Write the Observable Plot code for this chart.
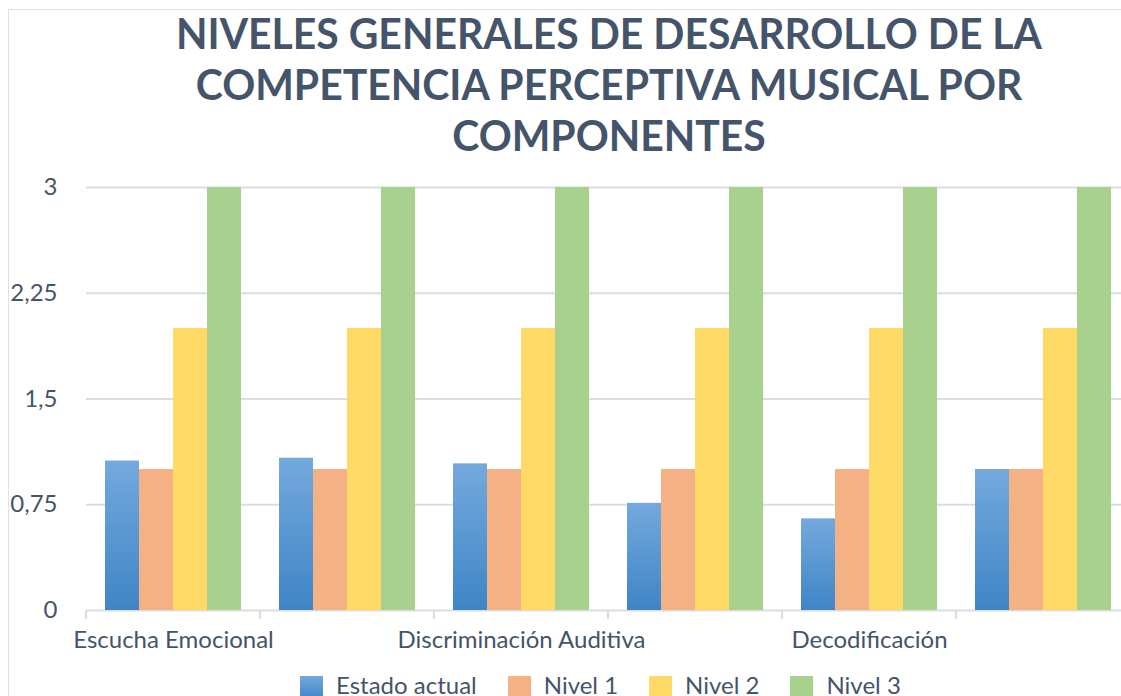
<!DOCTYPE html>
<html><head><meta charset="utf-8">
<script src="https://cdn.jsdelivr.net/npm/d3@7"></script>
<script src="https://cdn.jsdelivr.net/npm/@observablehq/plot@0.6"></script>
<style>
html,body{margin:0;padding:0;overflow:hidden;background:#fff;width:1121px;height:696px;}
body{position:relative;font-family:Lato,sans-serif;color:#44546a;}
#border{position:absolute;left:8px;top:9px;width:2000px;height:2000px;border-left:1px solid #dde0e5;border-top:1px solid #dde0e5;}
#title{position:absolute;left:0;top:8px;width:1218px;text-align:center;font-weight:700;font-size:42px;line-height:51px;white-space:nowrap;transform-origin:609px 0;}
#title span{display:inline-block;}
#chart{position:absolute;left:0;top:165px;width:1140px;}
#chart svg{max-width:none !important;}
#legend{position:absolute;left:300px;top:670px;display:flex;align-items:flex-start;font-size:24px;line-height:30px;white-space:nowrap;}
.item{display:flex;align-items:flex-start;margin-right:31px;}
.sw{width:23px;height:23px;margin-top:6px;margin-right:13px;}
</style></head>
<body>
<svg width="0" height="0" style="position:absolute">
  <defs>
    <linearGradient id="gradBlue" x1="0" y1="0" x2="0" y2="1">
      <stop offset="0" stop-color="#74a9dd"/>
      <stop offset="1" stop-color="#3f85c6"/>
    </linearGradient>
  </defs>
</svg>
<div id="border"></div>
<div id="title"></div>
<div id="chart"></div>
<div id="legend"></div>
<script>
const titleLines = ["NIVELES GENERALES DE DESARROLLO DE LA", "COMPETENCIA PERCEPTIVA MUSICAL POR", "COMPONENTES"];
const categories = ["Escucha Emocional", "Componente 2", "Discriminación Auditiva", "Componente 4", "Decodificación", "Componente 6"];
const shownLabels = ["Escucha Emocional", "Discriminación Auditiva", "Decodificación"];
const series = ["Estado actual", "Nivel 1", "Nivel 2", "Nivel 3"];
const estadoActual = [1.06, 1.08, 1.04, 0.76, 0.65, 1.0];
const nivel1 = [1, 1, 1, 1, 1, 1];
const nivel2 = [2, 2, 2, 2, 2, 2];
const nivel3 = [3, 3, 3, 3, 3, 3];
const yTicks = [0, 0.75, 1.5, 2.25, 3];
const seriesColors = ["url(#gradBlue)", "#f4b183", "#ffd966", "#a9d18e"];
const legendSwatches = ["linear-gradient(#74a9dd,#3f85c6)", "#f4b183", "#ffd966", "#a9d18e"];

const valuesBySeries = [estadoActual, nivel1, nivel2, nivel3];
const data = categories.flatMap((c, i) => series.map((s, j) => ({comp: c, serie: s, value: valuesBySeries[j][i]})));
const fmt = d => String(d).replace(".", ",");

// title
const title = document.getElementById("title");
titleLines.forEach((t, i) => {
  const sp = document.createElement("span"); sp.textContent = t;
  title.appendChild(sp);
  if (i < titleLines.length - 1) title.appendChild(document.createElement("br"));
});
const w1 = title.querySelector("span").getBoundingClientRect().width;
title.style.transform = `scaleX(${866 / w1})`;

const chart = Plot.plot({
  width: 1140, height: 495,
  marginLeft: 86, marginRight: 10, marginTop: 22, marginBottom: 50,
  style: {fontFamily: "Lato, sans-serif", fontSize: "24px", color: "#44546a", background: "transparent", overflow: "visible", maxWidth: "none"},
  fx: {domain: categories, padding: 0, label: null},
  x: {domain: series, paddingInner: 0, paddingOuter: 0.5, axis: null},
  y: {domain: [0, 3], label: null},
  color: {domain: series, range: seriesColors},
  marks: [
    Plot.gridY(yTicks, {stroke: "#d9dde3", strokeOpacity: 1, strokeWidth: 2}),
    Plot.barY(data, {fx: "comp", x: "serie", y: "value", fill: "serie"}),
    Plot.axisY(yTicks, {tickSize: 0, tickPadding: 29, tickFormat: fmt, fill: "#44546a", label: null}),
    Plot.axisFx({anchor: "bottom", tickSize: 0, tickPadding: 20, tickFormat: d => shownLabels.includes(d) ? d : "", fill: "#44546a", label: null})
  ]
});
document.getElementById("chart").appendChild(chart);

// group boundary tick marks, from the library's scales
const fx = chart.scale("fx"), y = chart.scale("y");
const y0 = y.apply(0);
const bounds = categories.map(c => fx.apply(c)).concat([fx.apply(categories[categories.length - 1]) + fx.bandwidth]);
d3.select(chart).append("g").selectAll("line").data(bounds).join("line")
  .attr("x1", d => d).attr("x2", d => d).attr("y1", y0).attr("y2", y0 + 9)
  .attr("stroke", "#d9dde3").attr("stroke-width", 2);

// legend
const legend = document.getElementById("legend");
series.forEach((s, i) => {
  const it = document.createElement("div"); it.className = "item";
  const sw = document.createElement("div"); sw.className = "sw"; sw.style.background = legendSwatches[i];
  const tx = document.createElement("span"); tx.textContent = s;
  it.appendChild(sw); it.appendChild(tx); legend.appendChild(it);
});
</script>
</body></html>
